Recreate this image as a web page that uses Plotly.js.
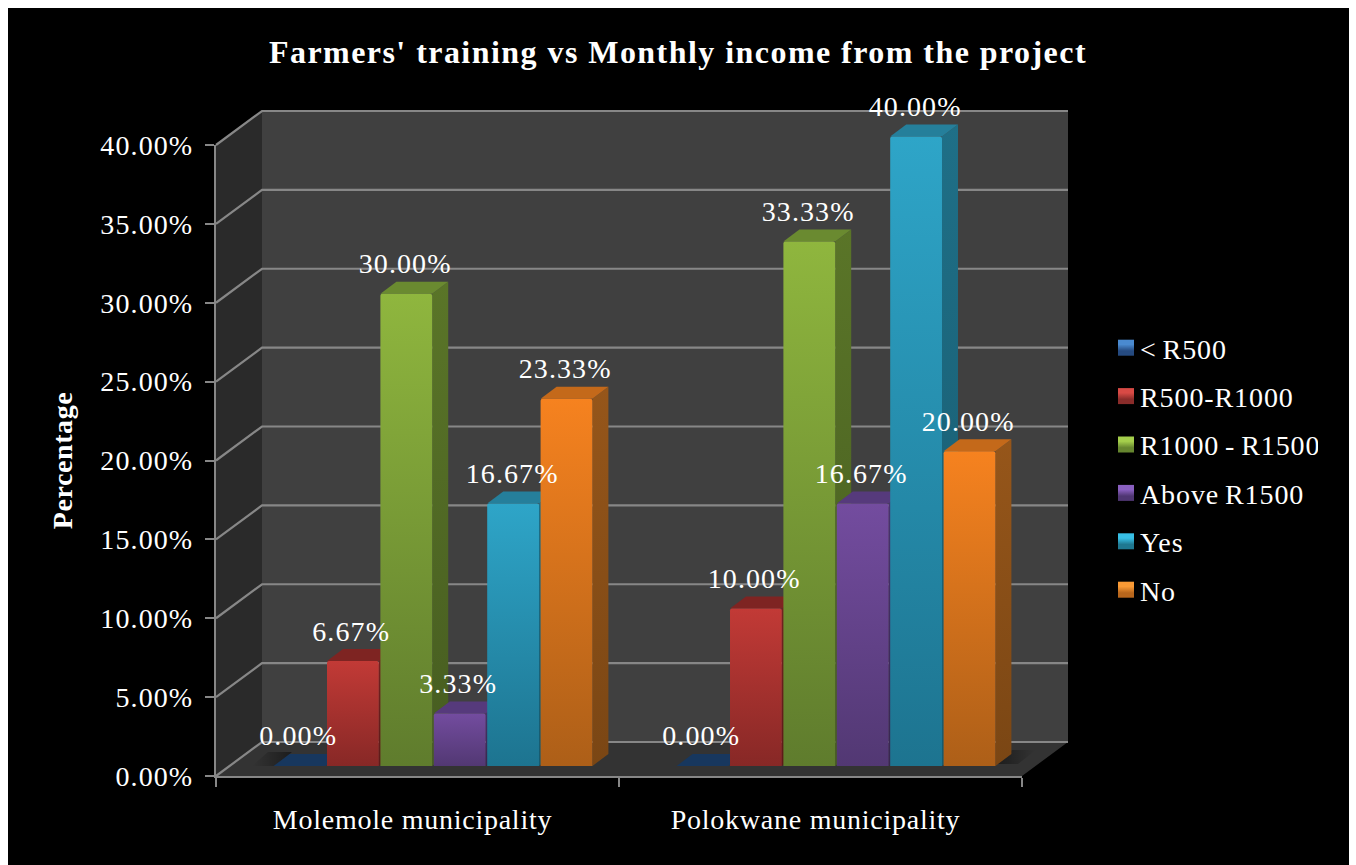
<!DOCTYPE html>
<html>
<head>
<meta charset="utf-8">
<script src="https://cdn.plot.ly/plotly-3.0.1.min.js"></script>
<style>
html,body{margin:0;padding:0;background:#fff;overflow:hidden}
#chart{position:absolute;left:8px;top:8px;width:1341px;height:857px}
.main-svg text{letter-spacing:1.1px}
.main-svg text.gtitle{letter-spacing:1.45px}
.main-svg text.x2title,.main-svg text.y2title{letter-spacing:.6px}
.main-svg .x2tick text{letter-spacing:.75px}
.main-svg text.legendtext{letter-spacing:.9px;word-spacing:-2px}
</style>
</head>
<body>
<svg width="0" height="0" style="position:absolute"><defs id="grads"></defs></svg>
<div id="chart"></div>
<script>
// ---- data ----
var categories = ['Molemole municipality', 'Polokwane municipality'];
var seriesNames = ['< R500', 'R500-R1000', 'R1000 - R1500', 'Above R1500', 'Yes', 'No'];
var lessR500 = [0, 0];
var r500to1000 = [6.67, 10];
var r1000to1500 = [30, 33.33];
var aboveR1500 = [3.33, 16.67];
var yesValues = [16.67, 40];
var noValues = [23.33, 20];
var yTicks = [0, 5, 10, 15, 20, 25, 30, 35, 40];
var seriesValues = [lessR500, r500to1000, r1000to1500, aboveR1500, yesValues, noValues];

// ---- styles ----
var frontTop = ['#3a6fb0', '#c23a36', '#8fb63e', '#734c9f', '#2ea5c8', '#f6821f'];
var frontBot = ['#1f3f6b', '#872826', '#5f7c2d', '#523873', '#1d7490', '#ad5f18'];
var topFace  = ['#17375e', '#7e2422', '#6a8a30', '#563a7c', '#257f9b', '#c4691a'];
var sideTop  = ['#17375e', '#742120', '#5a7528', '#4a3270', '#1f6f87', '#96561a'];
var sideBot  = ['#12294a', '#5e1a18', '#465c20', '#38264f', '#175a6e', '#7a4614'];
var legendTop = ['#4a8ad0', '#d84a45', '#a5cf4c', '#8a60c0', '#38c0e6', '#f99a35'];
var legendBot = ['#254a80', '#8a2c2a', '#66862f', '#4f3672', '#1f7891', '#b8661c'];
var INK = '#ffffff', GRID = '#878787';
var FONT = '"Liberation Serif","Times New Roman",serif', FS = 28, TITLE_FS = 32;

// ---- page geometry (page pixels) ----
var PL = 216, PR = 1068, PT = 100, PB = 776;
var W = PR - PL, H = PB - PT;
function px(x){ return (x - PL) / W; }
function py(y){ return (PB - y) / H; }
var frontX0 = 216, frontX1 = 1022, frontY0 = 776, frontY40 = 145;
var DX = 46, DY = 34;                 // wall depth
var barDX = 16, barDY = 12;           // bar depth
var barShiftX = 15.5, barY0 = 766, barPerUnit = 15.74;
var bargap = 0.205, bargroupgap = 0.03, catPx = (frontX1 - frontX0) / 2;
var nS = seriesNames.length;
var slotW = (1 - bargap) / nS, barW = slotW * (1 - bargroupgap), barPx = barW * catPx;
var barYMax = 41.6;

function poly(pts){
  return pts.map(function(p, i){ return (i ? 'L' : 'M') + px(p[0]) + ',' + py(p[1]); }).join(' ') + ' Z';
}
function wallY(v){ return frontY0 + (frontY40 - frontY0) * v / 40; }

// ---- wall, floor and grid decoration ----
var shapes = [];
function wall(pts, color){
  shapes.push({type:'path', xref:'paper', yref:'paper', layer:'below', path:poly(pts), fillcolor:color, line:{width:0}});
}
wall([[frontX0+DX, wallY(40)-DY],[frontX1+DX, wallY(40)-DY],[frontX1+DX, frontY0-DY],[frontX0+DX, frontY0-DY]], '#404040');
wall([[frontX0, wallY(40)],[frontX0+DX, wallY(40)-DY],[frontX0+DX, frontY0-DY],[frontX0, frontY0]], '#2a2a2a');
wall([[frontX0, frontY0],[frontX0+DX, frontY0-DY],[frontX1+DX, frontY0-DY],[frontX1, frontY0]], '#333333');
var shadowIdx = shapes.length;
wall([[996,764],[1012,750],[1036,750],[1018,764]], '#000000');
wall([[252,766],[268,752],[292,752],[276,766]], '#000000');
yTicks.forEach(function(v){
  var y = wallY(v);
  var pts = [[frontX0, y],[frontX0+DX, y-DY],[frontX1+DX, y-DY]];
  shapes.push({type:'path', xref:'paper', yref:'paper', layer:'below',
    path: pts.map(function(p,i){ return (i?'L':'M') + px(p[0]) + ',' + py(p[1]); }).join(' '),
    line:{color:GRID, width:2.2}});
});

// ---- bar top and side faces, anchored on the data through the axes ----
var sideShapes = [];
var annotations = [];
categories.forEach(function(cat, i){
  seriesValues.forEach(function(vals, s){
    var v = vals[i];
    var centre = i + (s - (nS - 1) / 2) * slotW;
    var left = centre - barW / 2, right = centre + barW / 2;
    var h = v * barPerUnit;
    var d = barDX, e = barDY;
    if (v > 0) {
      sideShapes.push({idx: shapes.length, s: s});
      shapes.push({type:'path', xref:'x', yref:'y', layer:'below', xsizemode:'pixel', ysizemode:'pixel',
        xanchor:right, yanchor:0,
        path:'M0,0 L'+d+','+e+' L'+d+','+(h+e)+' L0,'+h+' Z', fillcolor:sideTop[s], line:{width:0}});
    }
    shapes.push({type:'path', xref:'x', yref:'y', layer:'below', xsizemode:'pixel', ysizemode:'pixel',
      xanchor:left, yanchor:v,
      path:'M0,0 L'+d+','+e+' L'+(barPx+d)+','+e+' L'+barPx+',0 Z', fillcolor:topFace[s], line:{width:0}});
    annotations.push({xref:'x', yref:'y', x:centre, y:v, text:v.toFixed(2)+'%', showarrow:false,
      xshift:-1.5, yshift:30, font:{family:FONT, size:FS, color:INK}});
  });
});

// ---- traces ----
var traces = seriesNames.map(function(name, s){
  return {type:'bar', name:name, x:categories, y:seriesValues[s], xaxis:'x', yaxis:'y',
    legendgroup:'g'+s, marker:{color:frontTop[s], cornerradius:2, line:{width:0}},
    hoverinfo:'skip'};
});
traces.push({type:'bar', x:categories, y:[null, null], xaxis:'x2', yaxis:'y2', showlegend:false, hoverinfo:'skip'});

var layout = {
  width:1341, height:857,
  margin:{l:PL-8, r:1349-PR, t:PT-8, b:865-PB, pad:0},
  paper_bgcolor:'#000000', plot_bgcolor:'rgba(0,0,0,0)',
  barmode:'group', bargap:bargap, bargroupgap:bargroupgap,
  font:{family:FONT, size:FS, color:INK},
  title:{text:"<b>Farmers' training vs Monthly income from the project</b>",
    x:(678-8)/1341, xanchor:'center', xref:'container',
    y:1-(52-8)/857, yanchor:'middle', yref:'container',
    font:{family:FONT, size:TITLE_FS, color:INK}},
  xaxis:{domain:[px(frontX0+barShiftX), px(frontX1+barShiftX)], range:[-0.5,1.5], visible:false, type:'category', anchor:'y', fixedrange:true},
  yaxis:{domain:[py(barY0), py(barY0-barYMax*barPerUnit)], range:[0,barYMax], visible:false, anchor:'x', fixedrange:true},
  xaxis2:{domain:[0, px(frontX1)], range:[-0.5,1.5], type:'category', categoryorder:'array', categoryarray:categories,
    anchor:'y2', tickson:'boundaries', ticks:'outside', ticklen:9, tickwidth:2.2, tickcolor:GRID,
    showline:true, linecolor:GRID, linewidth:2.2, showgrid:false, zeroline:false, ticklabelstandoff:17, ticklabelshift:-5,
    tickfont:{family:FONT, size:FS, color:INK}, fixedrange:true},
  yaxis2:{domain:[0, py(frontY40)], range:[0,40], anchor:'x2', tickmode:'array', tickvals:yTicks,
    ticktext:yTicks.map(function(v){return v.toFixed(2)+'%';}),
    ticks:'outside', ticklen:9, tickwidth:2.2, tickcolor:GRID, showline:true, linecolor:GRID, linewidth:2.2,
    showgrid:false, zeroline:false, ticklabelstandoff:6,
    tickfont:{family:FONT, size:FS, color:INK}, fixedrange:true,
    title:{text:'<b>Percentage</b>', standoff:26, font:{family:FONT, size:FS, color:INK}}},
  legend:{x:px(1100), xanchor:'left', y:py(323), yanchor:'top', traceorder:'grouped', tracegroupgap:9,
    entrywidth:190, entrywidthmode:'pixels',
    font:{family:FONT, size:FS, color:INK}, bgcolor:'rgba(0,0,0,0)', borderwidth:0},
  shapes:shapes,
  annotations:annotations,
  hovermode:false
};

Plotly.newPlot('chart', traces, layout, {displayModeBar:false, responsive:false}).then(function(gd){
  var defs = document.getElementById('grads');
  var NS = 'http://www.w3.org/2000/svg';
  function grad(id, stops, horizontal){
    var g = document.createElementNS(NS, 'linearGradient');
    g.setAttribute('id', id);
    g.setAttribute('x1', 0); g.setAttribute('y1', 0);
    g.setAttribute('x2', horizontal ? 1 : 0); g.setAttribute('y2', horizontal ? 0 : 1);
    stops.forEach(function(st){
      var e = document.createElementNS(NS, 'stop');
      e.setAttribute('offset', st[0]); e.setAttribute('stop-color', st[1]);
      if (st[2] !== undefined) e.setAttribute('stop-opacity', st[2]);
      g.appendChild(e);
    });
    defs.appendChild(g);
  }
  for (var s = 0; s < nS; s++) {
    grad('front'+s, [[0, frontTop[s]],[1, frontBot[s]]]);
    grad('side'+s, [[0, sideTop[s]],[1, sideBot[s]]]);
    grad('leg'+s, [[0, legendTop[s]],[0.3, legendTop[s]],[0.7, legendBot[s]],[1, legendBot[s]]]);
  }
  grad('shadeR', [[0,'#000',0.45],[1,'#000',0]], true);
  grad('shadeL', [[0,'#000',0],[1,'#000',0.45]], true);

  gd.querySelectorAll('.subplot.xy .trace.bars').forEach(function(t, s){
    t.querySelectorAll('.point path').forEach(function(p){ p.style.fill = 'url(#front'+s+')'; });
  });
  gd.querySelectorAll('.legend .traces').forEach(function(t, s){
    var p = t.querySelector('.legendpoints path');
    if (p) {
      p.setAttribute('d', 'M14,8H-2V-8H14Z');
      p.style.fill = 'url(#leg'+s+')';
    }
  });
  function shapeEl(idx){ return gd.querySelector('.shapelayer path[data-index="'+idx+'"]'); }
  sideShapes.forEach(function(o){
    var el = shapeEl(o.idx);
    if (el) el.style.fill = 'url(#side'+o.s+')';
  });
  var a = shapeEl(shadowIdx), b = shapeEl(shadowIdx+1);
  if (a) { a.style.fill = 'url(#shadeR)'; a.style.fillOpacity = 1; }
  if (b) { b.style.fill = 'url(#shadeL)'; b.style.fillOpacity = 1; }
});
</script>
</body>
</html>
